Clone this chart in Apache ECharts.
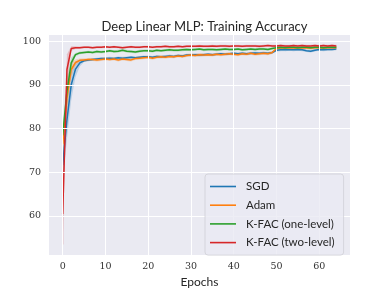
<!DOCTYPE html>
<html><head><meta charset="utf-8">
<script src="https://cdn.jsdelivr.net/npm/echarts@6/dist/echarts.min.js"></script>
<style>html,body{margin:0;padding:0;background:#fff}#c{width:390px;height:293px}</style>
</head><body><div id="c"></div>
<script>
const epochs = Array.from({length: 65}, (_, i) => i);
const sgd = [71.6,82.0,90.0,93.6,95.0,95.5,95.7,95.8,95.9,96.0,96.0,96.1,96.0,96.2,96.1,96.2,96.3,96.2,96.3,96.4,96.4,96.3,96.5,96.4,96.5,96.6,96.5,96.7,96.6,96.8,96.8,96.9,96.8,96.9,97.0,96.9,97.0,97.1,97.0,97.1,97.2,97.1,97.2,97.1,97.2,97.3,97.2,97.3,97.2,97.4,97.9,98.0,98.0,98.1,98.0,98.1,98.0,97.8,97.7,97.9,98.1,98.0,98.1,98.1,98.2];
const adam = [76.4,87.0,93.5,95.1,95.6,95.7,95.8,95.8,95.7,95.8,95.9,95.8,95.9,95.7,95.9,95.8,95.7,96.0,96.1,96.2,96.3,96.1,96.3,96.4,96.3,96.5,96.4,96.6,96.5,96.7,96.8,96.7,96.9,96.8,96.9,96.8,97.0,96.9,97.0,97.1,97.0,96.9,97.1,97.0,97.2,97.0,97.1,97.2,97.1,97.4,98.3,98.4,98.4,98.5,98.4,98.5,98.4,98.5,98.4,98.5,98.5,98.4,98.5,98.5,98.5];
const kfac1 = [78.4,88.5,95.0,96.9,97.3,97.4,97.5,97.4,97.6,97.5,97.6,97.8,97.6,97.7,97.9,97.7,97.6,97.5,97.7,97.8,97.8,97.7,97.9,97.8,97.9,98.0,97.9,97.9,98.0,98.1,98.0,98.1,98.2,98.0,98.1,98.1,98.0,98.1,98.2,98.1,98.1,98.2,98.0,98.1,98.2,98.1,98.2,98.2,98.1,98.3,98.5,98.6,98.5,98.6,98.6,98.5,98.6,98.6,98.5,98.6,98.6,98.5,98.6,98.6,98.6];
const kfac2 = [60.4,93.5,98.3,98.5,98.5,98.6,98.6,98.5,98.6,98.6,98.7,98.6,98.7,98.6,98.5,98.6,98.7,98.6,98.6,98.7,98.7,98.6,98.7,98.7,98.8,98.7,98.7,98.8,98.7,98.8,98.8,98.8,98.9,98.8,98.8,98.9,98.8,98.9,98.9,98.8,98.9,98.9,98.8,98.9,98.9,98.9,98.8,98.9,99.0,98.9,98.9,99.0,98.9,98.9,99.0,98.9,99.0,98.9,98.9,99.0,98.9,99.0,98.9,99.0,98.9];
// spread (half-width of shaded band) for the first epochs, then a constant tail spread
const sgdSpreadEarly = [3.5,4.5,3.5,1.8,0.8];   const sgdSpreadTail = 0.3;
const adamSpreadEarly = [3.0,3.5,1.8,0.7,0.4];  const adamSpreadTail = 0.35;
const kfac1SpreadEarly = [2.0,3.0,1.2,0.4,0.3]; const kfac1SpreadTail = 0.3;
const kfac2SpreadEarly = [7.0,3.5,0.5,0.3,0.25]; const kfac2SpreadTail = 0.25;
const names = ['SGD','Adam','K-FAC (one-level)','K-FAC (two-level)'];
const colors = ['#1f77b4','#ff7f0e','#2ca02c','#d62728'];
const xTicks = [0,10,20,30,40,50,60];
const yTicks = [60,70,80,90,100];

const means = [sgd, adam, kfac1, kfac2];
const spreadsEarly = [sgdSpreadEarly, adamSpreadEarly, kfac1SpreadEarly, kfac2SpreadEarly];
const spreadsTail = [sgdSpreadTail, adamSpreadTail, kfac1SpreadTail, kfac2SpreadTail];

const isTick = (v, ticks) => ticks.some(t => Math.abs(v - t) < 1e-6);

const series = [];
// gridlines drawn through the axes' scales
series.push({
  type: 'line', name: 'grid', data: [], silent: true, z: 1,
  markLine: {
    silent: true, symbol: 'none', label: {show: false}, animation: false,
    lineStyle: {color: '#ffffff', width: 1, type: 'solid'},
    data: xTicks.map(t => ({xAxis: t})).concat(yTicks.map(t => ({yAxis: t})))
  }
});
means.forEach((m, k) => {
  const sp = epochs.map(i => i < spreadsEarly[k].length ? spreadsEarly[k][i] : spreadsTail[k]);
  const bandData = epochs.map(i => [i, m[i] - sp[i], m[i] + sp[i]]);
  series.push({
    type: 'custom', name: 'band' + k, silent: true, z: 2, clip: true,
    data: bandData,
    renderItem: (params, api) => {
      const i = params.dataIndex;
      if (i >= bandData.length - 1) return null;
      const a = bandData[i], b = bandData[i + 1];
      const pts = [api.coord([a[0], a[1]]), api.coord([b[0], b[1]]),
                   api.coord([b[0], b[2]]), api.coord([a[0], a[2]])];
      return {type: 'polygon', shape: {points: pts},
        style: {fill: colors[k], opacity: 0.22, stroke: null}};
    },
    encode: {x: 0, y: 1}
  });
});
// thin vertical trace of the spread at the first epoch (as drawn by the shaded band)
means.forEach((m, k) => {
  const s0 = spreadsEarly[k][0];
  series.push({
    type: 'line', name: 'spread0_' + k, silent: true, symbol: 'none', z: 2,
    data: [[0, m[0] - s0], [0, m[0] + s0]],
    lineStyle: {color: colors[k], width: 1.3, opacity: 0.3}
  });
});
means.forEach((m, k) => {
  series.push({
    type: 'line', name: names[k], symbol: 'none', data: epochs.map(i => [i, m[i]]),
    lineStyle: {color: colors[k], width: 1.5}, itemStyle: {color: colors[k]}, z: 3
  });
});

const chart = echarts.init(document.getElementById('c'), null, {renderer: 'canvas'});
chart.setOption({
  animation: false,
  backgroundColor: '#fff',
  title: {text: 'Deep Linear MLP: Training Accuracy', left: 199.5, textAlign: 'center', top: 15,
    textStyle: {fontFamily: 'Lato', fontSize: 13, fontWeight: 'normal', color: '#262626'}},
  grid: {left: 49, right: 40, top: 35, bottom: 33, show: true, backgroundColor: '#EAEAF2', borderWidth: 0},
  legend: {
    data: names, orient: 'vertical', left: 205, top: 174, z: 20,
    backgroundColor: 'rgba(234,234,242,0.8)', borderColor: '#cfcfd6', borderWidth: 0.8, borderRadius: 3,
    padding: [5.5, 9, 5.5, 5], icon: 'rect', itemWidth: 26, itemHeight: 1.6, itemGap: 4.7,
    textStyle: {fontFamily: 'Lato', fontSize: 11.5, lineHeight: 14, color: '#262626', padding: [0, 0, 0, 5]}
  },
  xAxis: {
    type: 'value', min: -3.2, max: 67.2, interval: 0.4,
    name: 'Epochs', nameLocation: 'middle', nameGap: 19,
    nameTextStyle: {fontFamily: 'Lato', fontSize: 12, color: '#262626'},
    axisLine: {show: false}, axisTick: {show: false},
    axisLabel: {fontFamily: 'DejaVu Serif', fontSize: 9.5, color: '#333', margin: 6,
      formatter: v => isTick(v, xTicks) ? String(Math.round(v)) : ''},
    splitLine: {show: false}
  },
  yAxis: {
    type: 'value', min: 51, max: 101.4, interval: 1,
    axisLine: {show: false}, axisTick: {show: false},
    axisLabel: {fontFamily: 'DejaVu Serif', fontSize: 9.5, color: '#333', margin: 8,
      formatter: v => isTick(v, yTicks) ? String(Math.round(v)) : ''},
    splitLine: {show: false}
  },
  series: series
});
</script></body></html>
